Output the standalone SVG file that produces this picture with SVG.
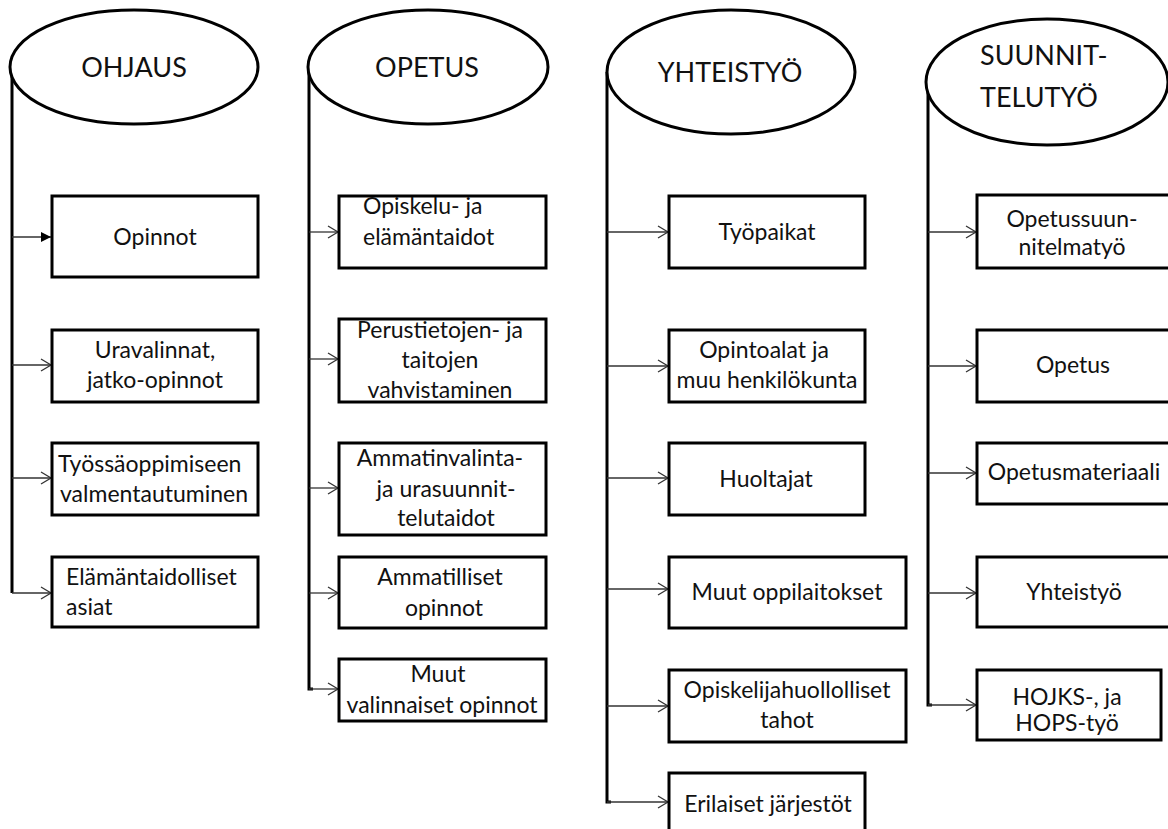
<svg xmlns="http://www.w3.org/2000/svg" width="1168" height="829" viewBox="0 0 1168 829">
  <style>
    .head { fill: #fff; stroke: #000; stroke-width: 3; }
    .box { fill: #fff; stroke: #000; stroke-width: 3; }
    .spine { fill: none; stroke: #000; stroke-width: 3; }
    .branch { fill: none; stroke: #333; stroke-width: 1.3; }
    .title { font-family: Lato, "Liberation Sans", sans-serif; font-size: 27px; fill: #111; }
    .label { font-family: Lato, "Liberation Sans", sans-serif; font-size: 23px; fill: #111; }
    .c { text-anchor: middle; }
  </style>
  <defs>
    <marker id="open" markerUnits="userSpaceOnUse" markerWidth="14" markerHeight="14" refX="11" refY="7" orient="auto" overflow="visible">
      <path d="M1,1 L11,7 L1,13" fill="none" stroke="#333" stroke-width="1.3"/>
    </marker>
    <marker id="solid" markerUnits="userSpaceOnUse" markerWidth="12" markerHeight="12" refX="10" refY="5" orient="auto" overflow="visible">
      <path d="M0,0 L10,5 L0,10 Z" fill="#000"/>
    </marker>
  </defs>

  <!-- connectors: spines from each header and branches into the items -->
  <g id="connectors">
    <path class="spine" d="M12,67 V593"/>
    <path class="spine" d="M309,67 V689 H313"/>
    <path class="spine" d="M607,72 V802 H611"/>
    <path class="spine" d="M928,82 V705 H932"/>

    <line class="branch" x1="12" y1="237" x2="51" y2="237" marker-end="url(#solid)"/>
    <line class="branch" x1="12" y1="365" x2="51" y2="365" marker-end="url(#open)"/>
    <line class="branch" x1="12" y1="478" x2="51" y2="478" marker-end="url(#open)"/>
    <line class="branch" x1="12" y1="593" x2="51" y2="593" marker-end="url(#open)"/>

    <line class="branch" x1="309" y1="232" x2="338" y2="232" marker-end="url(#open)"/>
    <line class="branch" x1="309" y1="359" x2="338" y2="359" marker-end="url(#open)"/>
    <line class="branch" x1="309" y1="488" x2="338" y2="488" marker-end="url(#open)"/>
    <line class="branch" x1="309" y1="593" x2="338" y2="593" marker-end="url(#open)"/>
    <line class="branch" x1="309" y1="689" x2="338" y2="689" marker-end="url(#open)"/>

    <line class="branch" x1="607" y1="232" x2="668" y2="232" marker-end="url(#open)"/>
    <line class="branch" x1="607" y1="366" x2="668" y2="366" marker-end="url(#open)"/>
    <line class="branch" x1="607" y1="478" x2="668" y2="478" marker-end="url(#open)"/>
    <line class="branch" x1="607" y1="589" x2="668" y2="589" marker-end="url(#open)"/>
    <line class="branch" x1="607" y1="706" x2="668" y2="706" marker-end="url(#open)"/>
    <line class="branch" x1="607" y1="802" x2="668" y2="802" marker-end="url(#open)"/>

    <line class="branch" x1="928" y1="232" x2="976" y2="232" marker-end="url(#open)"/>
    <line class="branch" x1="928" y1="366" x2="976" y2="366" marker-end="url(#open)"/>
    <line class="branch" x1="928" y1="473" x2="976" y2="473" marker-end="url(#open)"/>
    <line class="branch" x1="928" y1="593" x2="976" y2="593" marker-end="url(#open)"/>
    <line class="branch" x1="928" y1="705" x2="976" y2="705" marker-end="url(#open)"/>
  </g>

  <!-- OHJAUS column -->
  <g id="ohjaus">
    <ellipse class="head" cx="134" cy="67" rx="124" ry="57"/>
    <text class="title c" x="134" y="77">OHJAUS</text>
  </g>
  <g id="ohjaus-opinnot">
    <rect class="box" x="52" y="196" width="206" height="81"/>
    <text class="label c" x="155" y="245">Opinnot</text>
  </g>
  <g id="ohjaus-uravalinnat">
    <rect class="box" x="52" y="330" width="206" height="72"/>
    <text class="label c" x="155" y="358">Uravalinnat,</text>
    <text class="label c" x="155" y="388">jatko-opinnot</text>
  </g>
  <g id="ohjaus-tyossaoppiminen">
    <rect class="box" x="52" y="443" width="206" height="72"/>
    <text class="label" x="58" y="472">Työssäoppimiseen</text>
    <text class="label" x="60" y="502">valmentautuminen</text>
  </g>
  <g id="ohjaus-elamantaidot">
    <rect class="box" x="52" y="557" width="206" height="70"/>
    <text class="label" x="66" y="585">Elämäntaidolliset</text>
    <text class="label" x="66" y="615">asiat</text>
  </g>

  <!-- OPETUS column -->
  <g id="opetus">
    <ellipse class="head" cx="428" cy="67" rx="120" ry="57"/>
    <text class="title c" x="427" y="77">OPETUS</text>
  </g>
  <g id="opetus-opiskelu">
    <rect class="box" x="339" y="196" width="207" height="72"/>
    <text class="label" x="363" y="214">Opiskelu-  ja</text>
    <text class="label" x="363" y="245">elämäntaidot</text>
  </g>
  <g id="opetus-perustiedot">
    <rect class="box" x="339" y="319" width="207" height="83"/>
    <text class="label c" x="440" y="338">Perustietojen- ja</text>
    <text class="label c" x="440" y="368">taitojen</text>
    <text class="label c" x="440" y="398">vahvistaminen</text>
  </g>
  <g id="opetus-ammatinvalinta">
    <rect class="box" x="339" y="443" width="207" height="92"/>
    <text class="label c" x="440" y="466">Ammatinvalinta-</text>
    <text class="label c" x="446" y="497">ja urasuunnit-</text>
    <text class="label c" x="446" y="526">telutaidot</text>
  </g>
  <g id="opetus-ammatilliset">
    <rect class="box" x="339" y="557" width="207" height="71"/>
    <text class="label c" x="440" y="585">Ammatilliset</text>
    <text class="label c" x="444" y="616">opinnot</text>
  </g>
  <g id="opetus-valinnaiset">
    <rect class="box" x="339" y="659" width="207" height="62"/>
    <text class="label c" x="438" y="682">Muut</text>
    <text class="label c" x="442" y="713">valinnaiset  opinnot</text>
  </g>

  <!-- YHTEISTYÖ column -->
  <g id="yhteistyo">
    <ellipse class="head" cx="731" cy="72" rx="124" ry="62"/>
    <text class="title c" x="730" y="82">YHTEISTYÖ</text>
  </g>
  <g id="yhteistyo-tyopaikat">
    <rect class="box" x="669" y="196" width="196" height="72"/>
    <text class="label c" x="767" y="240">Työpaikat</text>
  </g>
  <g id="yhteistyo-opintoalat">
    <rect class="box" x="669" y="330" width="196" height="72"/>
    <text class="label c" x="764" y="358">Opintoalat ja</text>
    <text class="label c" x="767" y="388">muu henkilökunta</text>
  </g>
  <g id="yhteistyo-huoltajat">
    <rect class="box" x="669" y="443" width="196" height="72"/>
    <text class="label c" x="766" y="487">Huoltajat</text>
  </g>
  <g id="yhteistyo-oppilaitokset">
    <rect class="box" x="669" y="557" width="237" height="71"/>
    <text class="label c" x="787" y="600">Muut oppilaitokset</text>
  </g>
  <g id="yhteistyo-opiskelijahuolto">
    <rect class="box" x="669" y="670" width="237" height="72"/>
    <text class="label c" x="787" y="698">Opiskelijahuollolliset</text>
    <text class="label c" x="787" y="728">tahot</text>
  </g>
  <g id="yhteistyo-jarjestot">
    <rect class="box" x="669" y="773" width="196" height="60"/>
    <text class="label c" x="768" y="812">Erilaiset  järjestöt</text>
  </g>

  <!-- SUUNNITTELUTYÖ column -->
  <g id="suunnittelutyo">
    <ellipse class="head" cx="1047" cy="82" rx="121" ry="63"/>
    <text class="title" x="980" y="65">SUUNNIT-</text>
    <text class="title" x="980" y="107">TELUTYÖ</text>
  </g>
  <g id="suunnittelutyo-ops">
    <rect class="box" x="977" y="195" width="195" height="73"/>
    <text class="label c" x="1072" y="227">Opetussuun-</text>
    <text class="label c" x="1072" y="255">nitelmatyö</text>
  </g>
  <g id="suunnittelutyo-opetus">
    <rect class="box" x="977" y="330" width="195" height="72"/>
    <text class="label c" x="1073" y="373">Opetus</text>
  </g>
  <g id="suunnittelutyo-materiaali">
    <rect class="box" x="977" y="443" width="195" height="61"/>
    <text class="label c" x="1074" y="480">Opetusmateriaali</text>
  </g>
  <g id="suunnittelutyo-yhteistyo">
    <rect class="box" x="977" y="557" width="195" height="70"/>
    <text class="label c" x="1074" y="600">Yhteistyö</text>
  </g>
  <g id="suunnittelutyo-hops">
    <rect class="box" x="977" y="670" width="184" height="70"/>
    <text class="label c" x="1067" y="705">HOJKS-, ja</text>
    <text class="label c" x="1067" y="731">HOPS-työ</text>
  </g>
</svg>
